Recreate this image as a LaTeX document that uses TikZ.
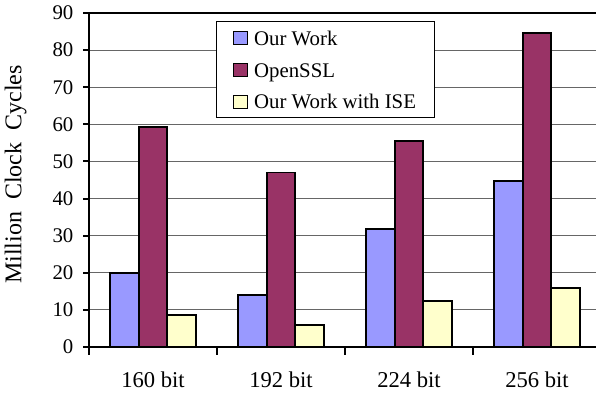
\documentclass[tikz,border=0pt]{standalone}
\usepackage{fontspec}
\setmainfont{Liberation Serif}
\usetikzlibrary{positioning}

\definecolor{ourwork}{HTML}{9999FF}
\definecolor{openssl}{HTML}{993366}
\definecolor{withise}{HTML}{FFFFCC}

\begin{document}
\begin{tikzpicture}[x=64pt,y=1.8555pt,
  every node/.style={inner sep=0pt,font=\fontsize{10.4}{12}\selectfont},
  grid line/.style={black!60,line width=0.5pt},
  axis line/.style={black,line width=1pt},
  bar/.style={draw=black,line width=0.9pt},
  swatch/.style={draw=black,line width=0.6pt,minimum width=7pt,minimum height=6.4pt},
  key/.style={text height=6.9pt,text depth=0pt}]
\useasboundingbox (-0.6953,-12.93) rectangle (3.9609,93.5);

% grid
\foreach \v in {10,20,...,80}
  \draw[grid line] (0,\v) -- (4,\v);

% bars: our work, openssl, our work with ise
\foreach \i/\a/\b/\c in {0/20/59.3/8.7, 1/14/47/5.9, 2/31.8/55.4/12.3, 3/44.8/84.7/16} {
  \draw[bar,fill=ourwork] (\i+0.166,0) rectangle (\i+0.3887,\a);
  \draw[bar,fill=openssl] (\i+0.3887,0) rectangle (\i+0.6114,\b);
  \draw[bar,fill=withise] (\i+0.6114,0) rectangle (\i+0.834,\c);
}

% axes and frame
\draw[axis line] (0,90) -- (0,0) -- (4,0);
\draw[axis line] (0,90) -- (4,90);
\foreach \v in {0,10,...,90} {
  \draw[axis line] ([xshift=-2.9pt]0,\v) -- (0,\v);
  \node[anchor=east] (tick\v) at ([xshift=-7.6pt]0,\v) {\v};
}
\foreach \i in {0,1,2,3}
  \draw[axis line] (\i,0) -- ([yshift=-4pt]\i,0);
\foreach \i/\t in {0/160,1/192,2/224,3/256}
  \node[anchor=base,font=\fontsize{11.3}{13}\selectfont] (cat\t) at ([yshift=-20.5pt]\i+0.5,0) {\t{} bit};

\node[rotate=90,font=\fontsize{12}{14}\selectfont] (ytitle) at (-0.574,46.5) {Million\enspace Clock\enspace Cycles};

% legend
\draw[fill=white,line width=0.5pt] (0.998,61.9) rectangle (2.703,87.77);
\node[swatch,fill=ourwork] (key1) at (1.184,83.2) {};
\node[swatch,fill=openssl] (key2) at (1.184,74.6) {};
\node[swatch,fill=withise] (key3) at (1.184,66.0) {};
\node[key,right=2.8pt of key1] (lab1) {Our Work};
\node[key,right=2.8pt of key2] (lab2) {OpenSSL};
\node[key,right=2.8pt of key3] (lab3) {Our Work with ISE};
\end{tikzpicture}
\end{document}
